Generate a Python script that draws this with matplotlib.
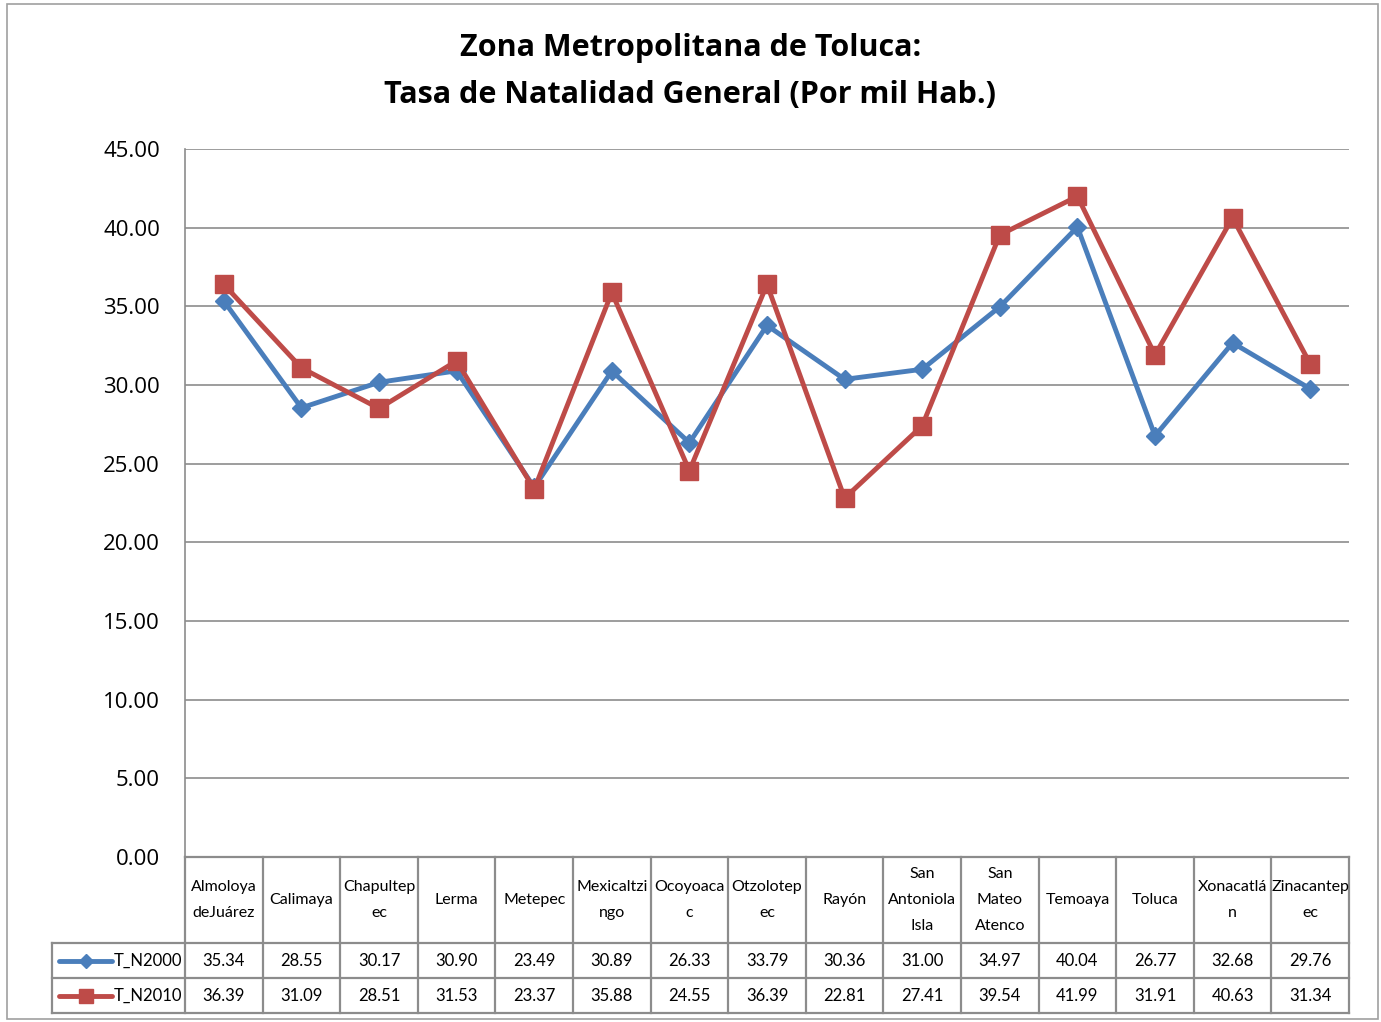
import matplotlib
matplotlib.use("Agg")
import matplotlib.pyplot as plt
from matplotlib.lines import Line2D
from matplotlib.patches import Rectangle
import numpy as np

municipios = ["Almoloya\ndeJuárez", "Calimaya", "Chapultep\nec", "Lerma", "Metepec",
              "Mexicaltzi\nngo", "Ocoyoaca\nc", "Otzolotep\nec", "Rayón", "San\nAntoniola\nIsla",
              "San\nMateo\nAtenco", "Temoaya", "Toluca", "Xonacatlá\nn", "Zinacantep\nec"]
t_n2000 = [35.34, 28.55, 30.17, 30.90, 23.49, 30.89, 26.33, 33.79, 30.36, 31.00,
           34.97, 40.04, 26.77, 32.68, 29.76]
t_n2010 = [36.39, 31.09, 28.51, 31.53, 23.37, 35.88, 24.55, 36.39, 22.81, 27.41,
           39.54, 41.99, 31.91, 40.63, 31.34]
series = [("T_N2000", t_n2000, "#4A7EBB", "D", 9),
          ("T_N2010", t_n2010, "#BE4B48", "s", 13)]

W, H = 1381, 1022
fig = plt.figure(figsize=(W / 100, H / 100), dpi=100)

def fx(px):
    return px / W

def fy(py):
    return 1 - py / H

narrow = "Lato"
grid_c = "#8c8c8c"

# outer chart frame
fig.patches.append(Rectangle((fx(7), fy(1019)), fx(1378 - 7), fy(4) - fy(1019),
                             transform=fig.transFigure, fill=False, edgecolor="#a0a0a0", lw=1.2))

left, right, top, bottom = 185, 1349, 149, 857
ax = fig.add_axes([fx(left), fy(bottom), fx(right - left), fy(top) - fy(bottom)])
x = np.arange(len(municipios))
for name, vals, col, mk, ms in series:
    ax.plot(x, vals, color=col, lw=3.5, marker=mk, markersize=ms, zorder=3)
ax.set_xlim(-0.5, len(municipios) - 0.5)
ax.set_ylim(0, 45)
ax.set_yticks(np.arange(0, 46, 5))
ax.set_yticklabels([f"{v:.2f}" for v in np.arange(0, 46, 5)], fontsize=16, family="Open Sans")
ax.tick_params(axis="y", length=0, pad=18)
ax.set_xticks([])
ax.grid(axis="y", color="#8c8c8c", lw=1.2)
for s in ["top", "right", "bottom"]:
    ax.spines[s].set_visible(False)
ax.spines["left"].set_color(grid_c)
ax.spines["left"].set_linewidth(1.2)
ax.set_axisbelow(True)

fig.text(0.5, fy(48), "Zona Metropolitana de Toluca:", ha="center", va="center",
         fontsize=22, fontweight="bold", family="Open Sans")
fig.text(0.5, fy(95), "Tasa de Natalidad General (Por mil Hab.)", ha="center", va="center",
         fontsize=22, fontweight="bold", family="Open Sans")

# data table under the plot
row_y = [857, 943, 978, 1013]
colw = (right - left) / len(municipios)
tl = dict(transform=fig.transFigure, color=grid_c, lw=1.6)
fig.add_artist(Line2D([fx(left), fx(right)], [fy(857), fy(857)], **tl))
for yy in row_y[1:]:
    fig.add_artist(Line2D([fx(52), fx(right)], [fy(yy), fy(yy)], **tl))
for i in range(len(municipios) + 1):
    xx = left + i * colw
    fig.add_artist(Line2D([fx(xx), fx(xx)], [fy(857), fy(1013)], **tl))
fig.add_artist(Line2D([fx(52), fx(52)], [fy(943), fy(1013)], **tl))

for i, lab in enumerate(municipios):
    cx = left + (i + 0.5) * colw
    fig.text(fx(cx), fy(900), lab, ha="center", va="center", fontsize=11.5,
             family=narrow, linespacing=2.12)
    for r, (name, vals, col, mk, ms) in enumerate(series):
        cy = (row_y[r + 1] + row_y[r + 2]) / 2
        fig.text(fx(cx), fy(cy), f"{vals[i]:.2f}", ha="center", va="center",
                 fontsize=12, family=narrow)

for r, (name, vals, col, mk, ms) in enumerate(series):
    cy = (row_y[r + 1] + row_y[r + 2]) / 2
    fig.add_artist(Line2D([fx(59), fx(112)], [fy(cy), fy(cy)], transform=fig.transFigure,
                          color=col, lw=3.5, solid_capstyle="round"))
    fig.add_artist(Line2D([fx(85.5)], [fy(cy)], transform=fig.transFigure, color=col,
                          marker=mk, markersize=ms * 0.75, lw=0))
    fig.text(fx(114), fy(cy), name, ha="left", va="center", fontsize=12, family=narrow)

fig.savefig("out.png", dpi=100)
